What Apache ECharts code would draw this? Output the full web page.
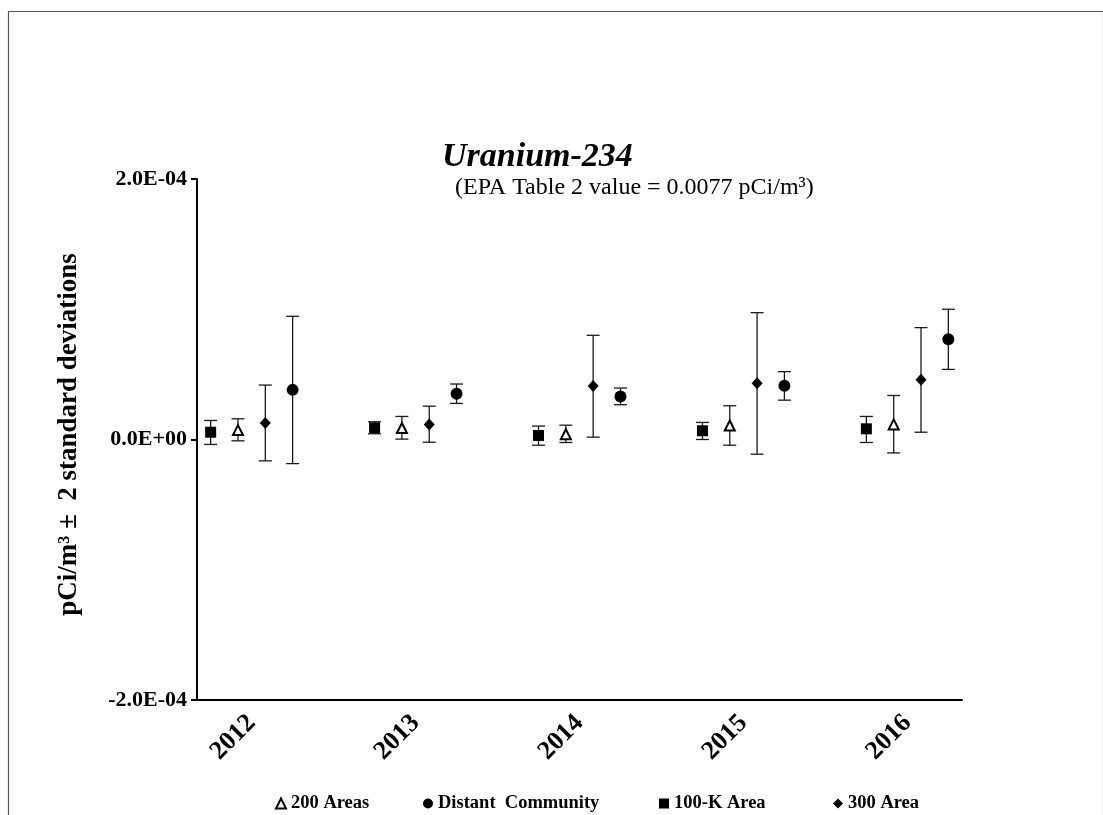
<!DOCTYPE html>
<html>
<head>
<meta charset="utf-8">
<script src="https://cdn.jsdelivr.net/npm/echarts@6/dist/echarts.min.js"></script>
<style>
html,body{margin:0;padding:0;background:#fff;}
#chart{width:1103px;height:815px;}
</style>
</head>
<body>
<div id="chart"></div>
<script>
// ---- Data (pCi/m3) ----
var years = ['2012', '2013', '2014', '2015', '2016'];
var yTickLabels = ['-2.0E-04', '0.0E+00', '2.0E-04'];

// 100-K Area (square)
var k100Value = [5.6e-6, 9.0e-6, 3.1e-6, 6.7e-6, 8.2e-6];
var k100Low   = [-3.8e-6, 4.4e-6, -4.4e-6, 0.0e-6, -2.3e-6];
var k100High  = [14.6e-6, 13.6e-6, 10.3e-6, 13.1e-6, 17.7e-6];

// 200 Areas (open triangle)
var a200Value = [7.2e-6, 8.8e-6, 4.0e-6, 10.7e-6, 11.6e-6];
var a200Low   = [-1.0e-6, 0.3e-6, -2.3e-6, -4.4e-6, -10.3e-6];
var a200High  = [15.9e-6, 17.7e-6, 11.0e-6, 25.9e-6, 33.8e-6];

// 300 Area (diamond)
var a300Value = [12.6e-6, 11.6e-6, 41.0e-6, 43.2e-6, 45.8e-6];
var a300Low   = [-16.4e-6, -2.1e-6, 1.8e-6, -11.3e-6, 5.6e-6];
var a300High  = [41.8e-6, 25.6e-6, 80.0e-6, 97.4e-6, 85.9e-6];

// Distant Community (circle)
var distValue = [38.1e-6, 35.1e-6, 33.1e-6, 41.2e-6, 77.0e-6];
var distLow   = [-18.5e-6, 27.7e-6, 26.7e-6, 30.2e-6, 53.8e-6];
var distHigh  = [94.6e-6, 42.6e-6, 39.5e-6, 52.1e-6, 100.0e-6];

// position of each series within a year group (slot offsets), years 6 slots apart
var groupSpacing = 6;
var offsets = {k100: -1.5, a200: -0.5, a300: 0.5, dist: 1.5};

var FONT = '"Liberation Serif", "Times New Roman", serif';

function pts(values, off) {
  return values.map(function (v, i) { return [i * groupSpacing + off, v]; });
}
function errs(low, high, off) {
  return low.map(function (l, i) { return [i * groupSpacing + off, l, high[i]]; });
}

var allErr = []
  .concat(errs(k100Low, k100High, offsets.k100))
  .concat(errs(a200Low, a200High, offsets.a200))
  .concat(errs(a300Low, a300High, offsets.a300))
  .concat(errs(distLow, distHigh, offsets.dist));

function renderErr(params, api) {
  var x = api.value(0);
  var lo = api.coord([x, api.value(1)]);
  var hi = api.coord([x, api.value(2)]);
  var hw = 6.5;
  var st = {stroke: '#1a1a1a', lineWidth: 1.3};
  return {
    type: 'group',
    children: [
      {type: 'line', shape: {x1: lo[0], y1: lo[1], x2: hi[0], y2: hi[1]}, style: st},
      {type: 'line', shape: {x1: hi[0] - hw, y1: hi[1], x2: hi[0] + hw, y2: hi[1]}, style: st},
      {type: 'line', shape: {x1: lo[0] - hw, y1: lo[1], x2: lo[0] + hw, y2: lo[1]}, style: st}
    ]
  };
}

var chart = echarts.init(document.getElementById('chart'), null, {renderer: 'canvas'});

var legendText = {fontFamily: FONT, fontWeight: 'bold', fontSize: 18.5, color: '#000'};
function mkLegend(name, left) {
  return {
    data: [name], left: left, top: 794, itemWidth: 10, itemHeight: 10, itemGap: 0,
    textStyle: legendText, selectedMode: false, padding: 0
  };
}

var option = {
  animation: false,
  backgroundColor: '#fff',
  title: [{
    text: 'Uranium-234',
    left: 442, top: 140, padding: 0,
    textStyle: {fontFamily: FONT, fontSize: 34, fontWeight: 'bold', fontStyle: 'italic', color: '#000'}
  }, {
    text: '(EPA Table 2 value = 0.0077 pCi/m³)',
    left: 455, top: 176, padding: 0,
    textStyle: {fontFamily: FONT, fontSize: 24, fontWeight: 'normal', color: '#000'}
  }],
  legend: [
    mkLegend('200 Areas', 275),
    mkLegend('Distant  Community', 423),
    mkLegend('100-K Area', 659),
    mkLegend('300 Area', 833)
  ],
  grid: {left: 197, right: 141, top: 179, bottom: 115, containLabel: false},
  xAxis: {
    type: 'value', min: -2, max: 26,
    axisLine: {show: true, onZero: false, lineStyle: {color: '#000', width: 2}},
    axisTick: {show: false},
    splitLine: {show: false},
    axisLabel: {
      customValues: [0, 6, 12, 18, 24],
      rotate: 45, margin: 19,
      fontFamily: FONT, fontWeight: 'bold', fontSize: 26, color: '#000',
      formatter: function (v) { return years[Math.round(v / groupSpacing)]; }
    }
  },
  yAxis: {
    type: 'value', min: -2e-4, max: 2e-4, interval: 2e-4,
    name: 'pCi/m³ ±  2 standard deviations',
    nameLocation: 'middle', nameRotate: 90, nameGap: 114,
    nameTextStyle: {fontFamily: FONT, fontWeight: 'bold', fontSize: 27, color: '#000', padding: [0, 0, 0, 10]},
    axisLine: {show: true, onZero: false, lineStyle: {color: '#000', width: 2}},
    axisTick: {show: true, inside: false, length: 6, lineStyle: {color: '#000', width: 2}},
    splitLine: {show: false},
    axisLabel: {
      margin: 10, fontFamily: FONT, fontWeight: 'bold', fontSize: 22, color: '#000',
      formatter: function (v, i) { return yTickLabels[i]; }
    }
  },
  graphic: [{
    type: 'rect', left: 6, top: 9,
    shape: {width: 1095, height: 830},
    style: {fill: 'none', stroke: '#555', lineWidth: 1.2},
    silent: true
  }],
  series: [
    {type: 'custom', name: 'err', renderItem: renderErr, data: allErr, z: 1,
     encode: {x: 0, y: [1, 2]}, silent: true},
    {type: 'scatter', name: '200 Areas', data: pts(a200Value, offsets.a200), symbol: 'triangle', symbolSize: 10,
     itemStyle: {color: '#fff', borderColor: '#000', borderWidth: 2, opacity: 1}, z: 3},
    {type: 'scatter', name: 'Distant  Community', data: pts(distValue, offsets.dist), symbol: 'circle', symbolSize: 12,
     itemStyle: {color: '#000', opacity: 1}, z: 3},
    {type: 'scatter', name: '100-K Area', data: pts(k100Value, offsets.k100), symbol: 'rect', symbolSize: 11,
     itemStyle: {color: '#000', opacity: 1}, z: 3},
    {type: 'scatter', name: '300 Area', data: pts(a300Value, offsets.a300), symbol: 'diamond', symbolSize: [11, 12],
     itemStyle: {color: '#000', opacity: 1}, z: 3}
  ]
};
chart.setOption(option);
</script>
</body>
</html>
